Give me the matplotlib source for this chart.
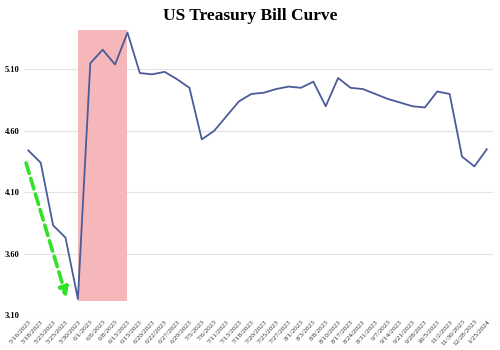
import matplotlib.pyplot as plt
from matplotlib.patches import Rectangle

dates = ['5/16/2023', '5/18/2023', '5/23/2023', '5/25/2023', '5/30/2023', '6/1/2023',
         '6/6/2023', '6/8/2023', '6/13/2023', '6/15/2023', '6/20/2023', '6/22/2023',
         '6/27/2023', '6/29/2023', '7/5/2023', '7/6/2023', '7/11/2023', '7/13/2023',
         '7/18/2023', '7/20/2023', '7/25/2023', '7/27/2023', '8/1/2023', '8/3/2023',
         '8/8/2023', '8/10/2023', '8/17/2023', '8/24/2023', '8/31/2023', '9/7/2023',
         '9/14/2023', '9/21/2023', '9/28/2023', '10/5/2023', '11/2/2023', '11/30/2023',
         '12/28/2023', '1/25/2024']
yields = [4.44, 4.34, 3.83, 3.73, 3.23, 5.15, 5.26, 5.14, 5.40, 5.07, 5.06, 5.08,
          5.02, 4.95, 4.53, 4.60, 4.72, 4.84, 4.90, 4.91, 4.94, 4.96, 4.95, 5.00,
          4.80, 5.03, 4.95, 4.94, 4.90, 4.86, 4.83, 4.80, 4.79, 4.92, 4.90, 4.39,
          4.31, 4.45]
yticks = [3.10, 3.60, 4.10, 4.60, 5.10]

# shaded window: debt ceiling low -> peak
span_start, span_end = 4, 8
span_low, span_top = 3.21, 5.42

plt.rcParams['font.family'] = ['Liberation Serif', 'DejaVu Serif']

fig = plt.figure(figsize=(5, 3.5), dpi=100)
ax = fig.add_axes([0.048, 0.1, 0.938, 0.814])

x = list(range(len(dates)))
ax.add_patch(Rectangle((span_start, span_low), span_end - span_start, span_top - span_low,
                       facecolor='#f6b7ba', edgecolor='none', zorder=1))
ax.plot(x, yields, color='#4b5b98', lw=1.3, zorder=3)

# green dashed arrow
ax.annotate('', xy=(3.15, 3.22), xytext=(-0.25, 4.36),
            arrowprops=dict(arrowstyle='-|>', color='#33e02a', lw=2.6,
                            linestyle=(0, (3, 1.5)), mutation_scale=14))

ax.set_xlim(-0.35, 37.5)
ax.set_ylim(3.10, 5.42)
ax.set_yticks(yticks)
ax.set_yticklabels(['%.2f' % v for v in yticks], fontsize=6, fontweight='bold')
ax.set_xticks(x)
ax.set_xticklabels(dates, rotation=48, ha='right', rotation_mode='anchor', fontsize=5.3,
                   color='#333333')
ax.tick_params(length=0, pad=3)
ax.grid(axis='y', color='#e3e3e3', lw=0.8)
ax.set_axisbelow(True)
for s in ax.spines.values():
    s.set_visible(False)

fig.text(0.5, 0.955, 'US Treasury Bill Curve', ha='center', va='center',
         fontsize=12.5, fontweight='bold')

fig.savefig('out.png', dpi=100)
